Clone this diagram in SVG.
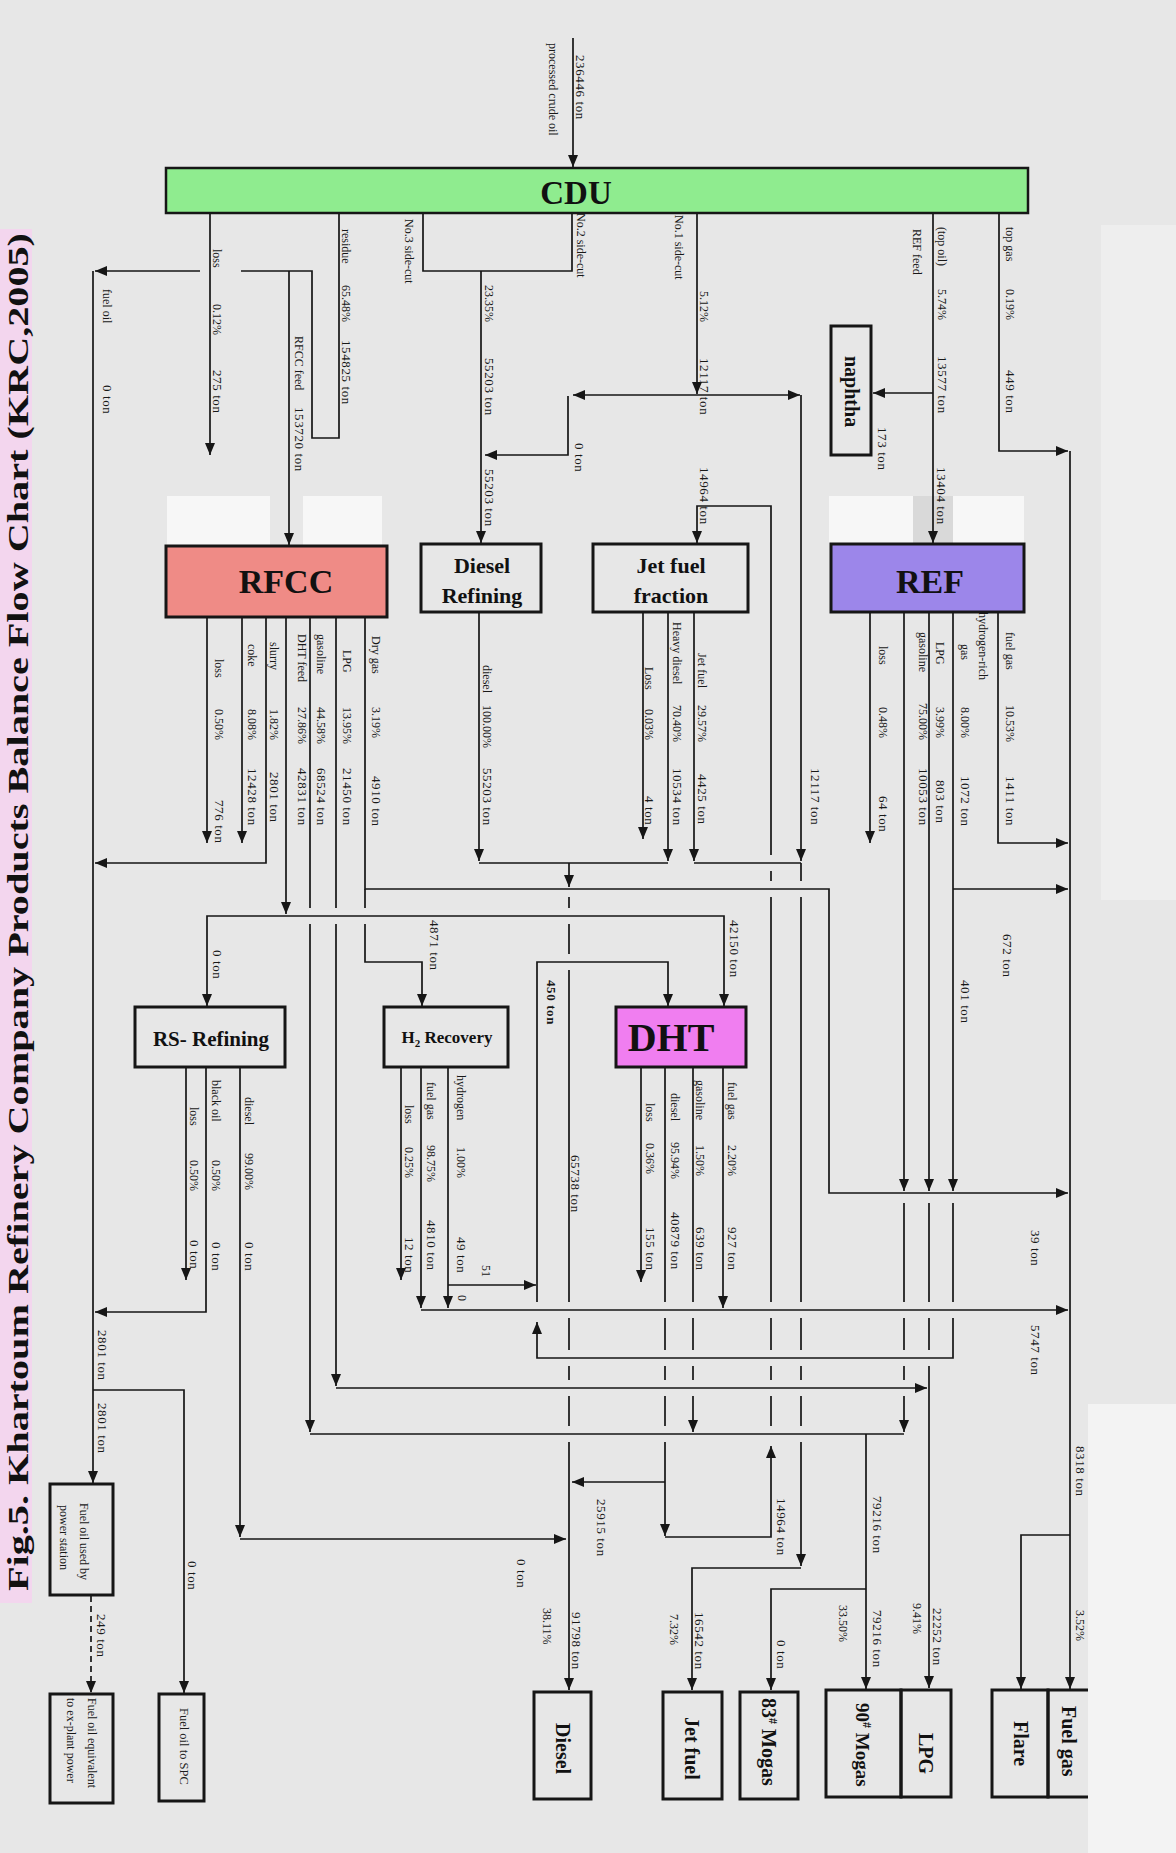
<svg xmlns="http://www.w3.org/2000/svg" width="1176" height="1853" viewBox="0 0 1176 1853">
<defs>
<marker id="ah" viewBox="0 0 12 10" refX="12" refY="5" markerWidth="12" markerHeight="10" orient="auto" markerUnits="userSpaceOnUse"><path d="M0,0L12,5L0,10z" fill="#161616"/></marker>
<style>
.ln{fill:none;stroke:#161616;stroke-width:1.7}
.bx{fill:none;stroke:#161616;stroke-width:3}
.l{font-family:"Liberation Serif","Times New Roman",serif;font-size:12px;fill:#181818}
.n{font-family:"Liberation Serif","Times New Roman",serif;font-size:13px;letter-spacing:0.6px;fill:#181818}
.b{font-family:"Liberation Serif","Times New Roman",serif;font-weight:bold;fill:#111}
.s{font-family:"Liberation Serif","Times New Roman",serif;font-size:12.5px;fill:#1c1c1c}
</style>
</defs>
<g id="paper">
<rect width="1176" height="1853" fill="#e7e7e7"/>
<rect x="1101" y="225" width="75" height="675" fill="#eeeeee"/>
<rect x="1088" y="1404" width="88" height="449" fill="#f3f3f3"/>
<rect x="167" y="496" width="103" height="50" fill="#f7f7f7"/>
<rect x="303" y="496" width="79" height="50" fill="#f7f7f7"/>
<rect x="829" y="496" width="84" height="47" fill="#f7f7f7"/>
<rect x="913" y="496" width="40" height="47" fill="#d9d9d9"/>
<rect x="953" y="496" width="71" height="47" fill="#f7f7f7"/>
</g>
<g id="title">
<rect x="0" y="229" width="32" height="1374" fill="#f3d6ee"/>
<text class="b" x="28" y="1591" transform="rotate(-90 28 1591)" font-size="30" textLength="1358" lengthAdjust="spacingAndGlyphs" fill="#222">Fig.5. Khartoum Refinery Company Products Balance Flow Chart (KRC,2005)</text>
</g>
<g id="connectors" class="ln">
<path d="M573,38V167" marker-end="url(#ah)"/>
<path d="M210,213V455" marker-end="url(#ah)"/>
<path d="M339,213V438H312V271H241M200,271H95" marker-end="url(#ah)"/>
<path d="M93,271V1483" marker-end="url(#ah)"/>
<path d="M289,271V545" marker-end="url(#ah)"/>
<path d="M423,213V271H572V213"/>
<path d="M481,271V543" marker-end="url(#ah)"/>
<path d="M697,213V394" marker-end="url(#ah)"/>
<path d="M697,395H573" marker-end="url(#ah)"/>
<path d="M697,395H800" marker-end="url(#ah)"/>
<path d="M568,396V455H485" marker-end="url(#ah)"/>
<path d="M801,395V861" marker-end="url(#ah)"/>
<path d="M933,213V543" marker-end="url(#ah)"/>
<path d="M933,393H873" marker-end="url(#ah)"/>
<path d="M999,213V451H1068" marker-end="url(#ah)"/>
<path d="M1070,451V1689" marker-end="url(#ah)"/>
<path d="M1070,1535H1021V1689" marker-end="url(#ah)"/>
<path d="M771,1426V1396M771,1380V1366M771,1350V1318M771,1302V897M771,881V871M771,855V506H697V543" marker-end="url(#ah)"/>
<path d="M665,1537H771V1446" marker-end="url(#ah)"/>
<path d="M479,612V861" marker-end="url(#ah)"/>
<path d="M643,612V839" marker-end="url(#ah)"/>
<path d="M668,612V861" marker-end="url(#ah)"/>
<path d="M694,612V861" marker-end="url(#ah)"/>
<path d="M479,863H668M694,863H801"/>
<path d="M569,863V887" marker-end="url(#ah)"/>
<path d="M569,897V908M569,924V954M569,970V1302M569,1318V1350M569,1366V1380M569,1396V1426M569,1442V1690" marker-end="url(#ah)"/>
<path d="M801,863V881M801,897V1302M801,1318V1350M801,1366V1380M801,1396V1426M801,1442V1566" marker-end="url(#ah)"/>
<path d="M801,1568H692V1690" marker-end="url(#ah)"/>
<path d="M870,612V843" marker-end="url(#ah)"/>
<path d="M998,612V843H1068" marker-end="url(#ah)"/>
<path d="M904,612V1191" marker-end="url(#ah)"/>
<path d="M904,1203V1302M904,1318V1350M904,1366V1380M904,1396V1432" marker-end="url(#ah)"/>
<path d="M929,612V1191" marker-end="url(#ah)"/>
<path d="M929,1203V1302M929,1318V1350M929,1366V1688" marker-end="url(#ah)"/>
<path d="M953,612V1191" marker-end="url(#ah)"/>
<path d="M953,889H1068" marker-end="url(#ah)"/>
<path d="M953,1203V1302M953,1318V1358H537V1322" marker-end="url(#ah)"/>
<path d="M537,1302V962H668V1006" marker-end="url(#ah)"/>
<path d="M207,617V843" marker-end="url(#ah)"/>
<path d="M242,617V843" marker-end="url(#ah)"/>
<path d="M266,617V863H95" marker-end="url(#ah)"/>
<path d="M286,617V914" marker-end="url(#ah)"/>
<path d="M286,916H207V1006" marker-end="url(#ah)"/>
<path d="M286,916H724V1006" marker-end="url(#ah)"/>
<path d="M310,617V908M310,924V1432" marker-end="url(#ah)"/>
<path d="M310,1434H904"/>
<path d="M866,1434V1689" marker-end="url(#ah)"/>
<path d="M866,1589H771V1690" marker-end="url(#ah)"/>
<path d="M336,617V908M336,924V1386" marker-end="url(#ah)"/>
<path d="M336,1388H927" marker-end="url(#ah)"/>
<path d="M365,617V889H829V1193H1068" marker-end="url(#ah)"/>
<path d="M365,889V908M365,924V962H422V1006" marker-end="url(#ah)"/>
<path d="M186,1067V1280" marker-end="url(#ah)"/>
<path d="M206,1067V1312H95" marker-end="url(#ah)"/>
<path d="M240,1067V1537" marker-end="url(#ah)"/>
<path d="M240,1539H566" marker-end="url(#ah)"/>
<path d="M93,1390H184V1693" marker-end="url(#ah)"/>
<path d="M91,1596V1693" stroke-dasharray="6 4" marker-end="url(#ah)"/>
<path d="M401,1067V1280" marker-end="url(#ah)"/>
<path d="M421,1067V1308" marker-end="url(#ah)"/>
<path d="M448,1067V1308" marker-end="url(#ah)"/>
<path d="M448,1285H536" marker-end="url(#ah)"/>
<path d="M421,1310H1068" marker-end="url(#ah)"/>
<path d="M665,1067V1302M665,1318V1350M665,1366V1380M665,1396V1426M665,1442V1536" marker-end="url(#ah)"/>
<path d="M665,1482H572" marker-end="url(#ah)"/>
<path d="M693,1067V1302M693,1318V1350M693,1366V1380M693,1396V1432" marker-end="url(#ah)"/>
<path d="M723,1067V1308" marker-end="url(#ah)"/>
<path d="M641,1067V1282" marker-end="url(#ah)"/>
</g>
<g id="cdu"><rect x="166" y="168" width="862" height="45" fill="#8fec8f" stroke="#161616" stroke-width="2.5"/><text class="b" x="576" y="204" font-size="33" text-anchor="middle">CDU</text></g>
<g id="naphtha"><rect x="831" y="326" width="40" height="129" class="bx"/><text class="b" font-size="20" x="845" y="356" transform="rotate(90 845 356)">naphtha</text></g>
<g id="rfcc"><rect x="166" y="546" width="221" height="71" fill="#ef8b86" stroke="#161616" stroke-width="3"/><text class="b" x="286" y="593" font-size="34" text-anchor="middle">RFCC</text></g>
<g id="diesel-refining"><rect x="421" y="544" width="120" height="68" class="bx"/><text class="b" x="482" y="573" font-size="22" text-anchor="middle">Diesel</text><text class="b" x="482" y="603" font-size="22" text-anchor="middle">Refining</text></g>
<g id="jet-fuel-fraction"><rect x="593" y="544" width="155" height="68" class="bx"/><text class="b" x="671" y="573" font-size="22" text-anchor="middle">Jet fuel</text><text class="b" x="671" y="603" font-size="22" text-anchor="middle">fraction</text></g>
<g id="ref"><rect x="831" y="544" width="193" height="68" fill="#9c86ea" stroke="#161616" stroke-width="3"/><text class="b" x="930" y="593" font-size="34" text-anchor="middle">REF</text></g>
<g id="rs-refining"><rect x="135" y="1007" width="150" height="60" class="bx"/><text class="b" x="211" y="1046" font-size="21" text-anchor="middle">RS- Refining</text></g>
<g id="h2-recovery"><rect x="384" y="1007" width="124" height="60" class="bx"/><text class="b" x="447" y="1043" font-size="17" text-anchor="middle">H<tspan font-size="11" dy="4">2</tspan><tspan dy="-4"> Recovery</tspan></text></g>
<g id="dht"><rect x="616" y="1007" width="130" height="60" fill="#f07ef0" stroke="#161616" stroke-width="3"/><text class="b" x="671" y="1051" font-size="40" text-anchor="middle">DHT</text></g>
<g id="fuel-oil-power"><rect x="50" y="1484" width="63" height="111" class="bx"/><text class="l" x="80" y="1503" transform="rotate(90 80 1503)">Fuel oil used by</text><text class="l" x="60" y="1505" transform="rotate(90 60 1505)">power station</text></g>
<g id="fuel-oil-equiv"><rect x="50" y="1694" width="63" height="109" class="bx"/><text class="l" x="88" y="1698" transform="rotate(90 88 1698)">Fuel oil equivalent</text><text class="l" x="67" y="1698" transform="rotate(90 67 1698)">to ex-plant power</text></g>
<g id="fuel-oil-spc"><rect x="159" y="1694" width="45" height="107" class="bx"/><text class="s" x="180" y="1708" transform="rotate(90 180 1708)">Fuel oil to SPC</text></g>
<g id="diesel"><rect x="534" y="1692" width="57" height="107" class="bx"/><text class="b" font-size="20" x="556" y="1723" transform="rotate(90 556 1723)">Diesel</text></g>
<g id="jet-fuel"><rect x="663" y="1692" width="59" height="107" class="bx"/><text class="b" font-size="20" x="685" y="1717" transform="rotate(90 685 1717)">Jet fuel</text></g>
<g id="mogas83"><rect x="740" y="1692" width="58" height="107" class="bx"/><text class="b" font-size="20" x="762" y="1698" transform="rotate(90 762 1698)">83<tspan font-size="12" dy="-7">#</tspan><tspan dy="7"> Mogas</tspan></text></g>
<g id="mogas90"><rect x="826" y="1690" width="75" height="107" class="bx"/><text class="b" font-size="19" x="856" y="1703" transform="rotate(90 856 1703)">90<tspan font-size="12" dy="-7">#</tspan><tspan dy="7"> Mogas</tspan></text></g>
<g id="lpg"><rect x="901" y="1690" width="50" height="107" class="bx"/><text class="b" font-size="20" x="919" y="1733" transform="rotate(90 919 1733)">LPG</text></g>
<g id="flare"><rect x="992" y="1690" width="56" height="107" class="bx"/><text class="b" font-size="20" x="1014" y="1721" transform="rotate(90 1014 1721)">Flare</text></g>
<g id="fuel-gas"><path d="M1088,1690H1048V1797H1088" class="bx"/><text class="b" font-size="20" x="1062" y="1706" transform="rotate(90 1062 1706)">Fuel gas</text></g>
<g id="labels">
<text class="n" font-size="17" letter-spacing="1.2" x="576" y="55" transform="rotate(90 576 55)">236446 ton</text>
<text class="l" font-size="12.5" x="549" y="43" transform="rotate(90 549 43)">processed crude oil</text>
<text class="l" x="213" y="249" transform="rotate(90 213 249)">loss</text>
<text class="l" x="213" y="304" transform="rotate(90 213 304)">0.12%</text>
<text class="n" x="213" y="370" transform="rotate(90 213 370)">275 ton</text>
<text class="l" x="103" y="289" transform="rotate(90 103 289)">fuel oil</text>
<text class="n" x="103" y="385" transform="rotate(90 103 385)">0 ton</text>
<text class="l" x="342" y="229" transform="rotate(90 342 229)">residue</text>
<text class="l" x="342" y="285" transform="rotate(90 342 285)">65.48%</text>
<text class="n" x="342" y="340" transform="rotate(90 342 340)">154825 ton</text>
<text class="l" x="295" y="336" transform="rotate(90 295 336)">RFCC feed</text>
<text class="n" x="295" y="407" transform="rotate(90 295 407)">153720 ton</text>
<text class="l" x="405" y="219" transform="rotate(90 405 219)">No.3 side-cut</text>
<text class="l" x="577" y="213" transform="rotate(90 577 213)">No.2 side-cut</text>
<text class="l" x="485" y="285" transform="rotate(90 485 285)">23.35%</text>
<text class="n" x="485" y="358" transform="rotate(90 485 358)">55203 ton</text>
<text class="n" x="485" y="469" transform="rotate(90 485 469)">55203 ton</text>
<text class="n" x="575" y="443" transform="rotate(90 575 443)">0 ton</text>
<text class="l" x="675" y="215" transform="rotate(90 675 215)">No.1 side-cut</text>
<text class="l" x="700" y="291" transform="rotate(90 700 291)">5.12%</text>
<text class="n" x="700" y="358" transform="rotate(90 700 358)">12117 ton</text>
<text class="n" x="700" y="467" transform="rotate(90 700 467)">14964 ton</text>
<text class="l" x="913" y="229" transform="rotate(90 913 229)">REF feed</text>
<text class="l" x="938" y="227" transform="rotate(90 938 227)">(top oil)</text>
<text class="l" x="938" y="289" transform="rotate(90 938 289)">5.74%</text>
<text class="n" x="938" y="356" transform="rotate(90 938 356)">13577 ton</text>
<text class="n" x="937" y="467" transform="rotate(90 937 467)">13404 ton</text>
<text class="n" x="878" y="427" transform="rotate(90 878 427)">173 ton</text>
<text class="l" x="1006" y="227" transform="rotate(90 1006 227)">top gas</text>
<text class="l" x="1006" y="289" transform="rotate(90 1006 289)">0.19%</text>
<text class="n" x="1006" y="370" transform="rotate(90 1006 370)">449 ton</text>
<text class="l" x="215" y="659" transform="rotate(90 215 659)">loss</text>
<text class="l" x="215" y="709" transform="rotate(90 215 709)">0.50%</text>
<text class="n" x="215" y="800" transform="rotate(90 215 800)">776 ton</text>
<text class="l" x="248" y="644" transform="rotate(90 248 644)">coke</text>
<text class="l" x="248" y="709" transform="rotate(90 248 709)">8.08%</text>
<text class="n" x="248" y="768" transform="rotate(90 248 768)">12428 ton</text>
<text class="l" x="270" y="642" transform="rotate(90 270 642)">slurry</text>
<text class="l" x="270" y="709" transform="rotate(90 270 709)">1.82%</text>
<text class="n" x="270" y="772" transform="rotate(90 270 772)">2801 ton</text>
<text class="l" x="298" y="634" transform="rotate(90 298 634)">DHT feed</text>
<text class="l" x="298" y="707" transform="rotate(90 298 707)">27.86%</text>
<text class="n" x="298" y="768" transform="rotate(90 298 768)">42831 ton</text>
<text class="l" x="317" y="634" transform="rotate(90 317 634)">gasoline</text>
<text class="l" x="317" y="707" transform="rotate(90 317 707)">44.58%</text>
<text class="n" x="317" y="768" transform="rotate(90 317 768)">68524 ton</text>
<text class="l" x="343" y="650" transform="rotate(90 343 650)">LPG</text>
<text class="l" x="343" y="707" transform="rotate(90 343 707)">13.95%</text>
<text class="n" x="343" y="768" transform="rotate(90 343 768)">21450 ton</text>
<text class="l" x="372" y="636" transform="rotate(90 372 636)">Dry gas</text>
<text class="l" x="372" y="707" transform="rotate(90 372 707)">3.19%</text>
<text class="n" x="372" y="776" transform="rotate(90 372 776)">4910 ton</text>
<text class="l" x="483" y="665" transform="rotate(90 483 665)">diesel</text>
<text class="l" x="483" y="705" transform="rotate(90 483 705)">100.00%</text>
<text class="n" x="483" y="768" transform="rotate(90 483 768)">55203 ton</text>
<text class="l" x="645" y="667" transform="rotate(90 645 667)">Loss</text>
<text class="l" x="645" y="709" transform="rotate(90 645 709)">0.03%</text>
<text class="n" x="645" y="796" transform="rotate(90 645 796)">4 ton</text>
<text class="l" x="673" y="622" transform="rotate(90 673 622)">Heavy diesel</text>
<text class="l" x="673" y="705" transform="rotate(90 673 705)">70.40%</text>
<text class="n" x="673" y="768" transform="rotate(90 673 768)">10534 ton</text>
<text class="l" x="698" y="653" transform="rotate(90 698 653)">Jet fuel</text>
<text class="l" x="698" y="705" transform="rotate(90 698 705)">29.57%</text>
<text class="n" x="698" y="774" transform="rotate(90 698 774)">4425 ton</text>
<text class="l" x="879" y="646" transform="rotate(90 879 646)">loss</text>
<text class="l" x="879" y="707" transform="rotate(90 879 707)">0.48%</text>
<text class="n" x="879" y="796" transform="rotate(90 879 796)">64 ton</text>
<text class="l" x="919" y="632" transform="rotate(90 919 632)">gasoline</text>
<text class="l" x="919" y="703" transform="rotate(90 919 703)">75.00%</text>
<text class="n" x="919" y="768" transform="rotate(90 919 768)">10053 ton</text>
<text class="l" x="936" y="642" transform="rotate(90 936 642)">LPG</text>
<text class="l" x="936" y="707" transform="rotate(90 936 707)">3.99%</text>
<text class="n" x="936" y="780" transform="rotate(90 936 780)">803 ton</text>
<text class="l" x="979" y="612" transform="rotate(90 979 612)">hydrogen-rich</text>
<text class="l" x="961" y="644" transform="rotate(90 961 644)">gas</text>
<text class="l" x="961" y="707" transform="rotate(90 961 707)">8.00%</text>
<text class="n" x="961" y="776" transform="rotate(90 961 776)">1072 ton</text>
<text class="l" x="1006" y="632" transform="rotate(90 1006 632)">fuel gas</text>
<text class="l" x="1006" y="705" transform="rotate(90 1006 705)">10.53%</text>
<text class="n" x="1006" y="776" transform="rotate(90 1006 776)">1411 ton</text>
<text class="n" x="811" y="768" transform="rotate(90 811 768)">12117 ton</text>
<text class="n" x="1003" y="934" transform="rotate(90 1003 934)">672 ton</text>
<text class="n" x="961" y="980" transform="rotate(90 961 980)">401 ton</text>
<text class="n" x="213" y="950" transform="rotate(90 213 950)">0 ton</text>
<text class="n" x="430" y="920" transform="rotate(90 430 920)">4871 ton</text>
<text class="n" x="730" y="920" transform="rotate(90 730 920)">42150 ton</text>
<text class="n" font-size="15" font-weight="bold" x="547" y="980" transform="rotate(90 547 980)">450 ton</text>
<text class="n" x="571" y="1155" transform="rotate(90 571 1155)">65738 ton</text>
<text class="l" x="190" y="1107" transform="rotate(90 190 1107)">loss</text>
<text class="l" x="190" y="1160" transform="rotate(90 190 1160)">0.50%</text>
<text class="n" x="190" y="1240" transform="rotate(90 190 1240)">0 ton</text>
<text class="l" x="212" y="1080" transform="rotate(90 212 1080)">black oil</text>
<text class="l" x="212" y="1160" transform="rotate(90 212 1160)">0.50%</text>
<text class="n" x="212" y="1242" transform="rotate(90 212 1242)">0 ton</text>
<text class="l" x="245" y="1097" transform="rotate(90 245 1097)">diesel</text>
<text class="l" x="245" y="1153" transform="rotate(90 245 1153)">99.00%</text>
<text class="n" x="245" y="1242" transform="rotate(90 245 1242)">0 ton</text>
<text class="l" x="405" y="1105" transform="rotate(90 405 1105)">loss</text>
<text class="l" x="405" y="1147" transform="rotate(90 405 1147)">0.25%</text>
<text class="n" x="405" y="1237" transform="rotate(90 405 1237)">12 ton</text>
<text class="l" x="427" y="1082" transform="rotate(90 427 1082)">fuel gas</text>
<text class="l" x="427" y="1145" transform="rotate(90 427 1145)">98.75%</text>
<text class="n" x="427" y="1220" transform="rotate(90 427 1220)">4810 ton</text>
<text class="l" x="457" y="1075" transform="rotate(90 457 1075)">hydrogen</text>
<text class="l" x="457" y="1147" transform="rotate(90 457 1147)">1.00%</text>
<text class="n" x="457" y="1237" transform="rotate(90 457 1237)">49 ton</text>
<text class="l" x="482" y="1265" transform="rotate(90 482 1265)">51</text>
<text class="l" x="458" y="1295" transform="rotate(90 458 1295)">0</text>
<text class="l" x="646" y="1103" transform="rotate(90 646 1103)">loss</text>
<text class="l" x="646" y="1143" transform="rotate(90 646 1143)">0.36%</text>
<text class="n" x="646" y="1227" transform="rotate(90 646 1227)">155 ton</text>
<text class="l" x="671" y="1093" transform="rotate(90 671 1093)">diesel</text>
<text class="l" x="671" y="1142" transform="rotate(90 671 1142)">95.94%</text>
<text class="n" x="671" y="1212" transform="rotate(90 671 1212)">40879 ton</text>
<text class="l" x="696" y="1080" transform="rotate(90 696 1080)">gasoline</text>
<text class="l" x="696" y="1145" transform="rotate(90 696 1145)">1.50%</text>
<text class="n" x="696" y="1227" transform="rotate(90 696 1227)">639 ton</text>
<text class="l" x="728" y="1082" transform="rotate(90 728 1082)">fuel gas</text>
<text class="l" x="728" y="1145" transform="rotate(90 728 1145)">2.20%</text>
<text class="n" x="728" y="1227" transform="rotate(90 728 1227)">927 ton</text>
<text class="n" x="1031" y="1230" transform="rotate(90 1031 1230)">39 ton</text>
<text class="n" x="1031" y="1325" transform="rotate(90 1031 1325)">5747 ton</text>
<text class="n" x="1076" y="1446" transform="rotate(90 1076 1446)">8318 ton</text>
<text class="l" x="1076" y="1610" transform="rotate(90 1076 1610)">3.52%</text>
<text class="n" x="98" y="1330" transform="rotate(90 98 1330)">2801 ton</text>
<text class="n" x="98" y="1403" transform="rotate(90 98 1403)">2801 ton</text>
<text class="n" x="188" y="1561" transform="rotate(90 188 1561)">0 ton</text>
<text class="n" x="97" y="1614" transform="rotate(90 97 1614)">249 ton</text>
<text class="n" x="517" y="1559" transform="rotate(90 517 1559)">0 ton</text>
<text class="n" x="597" y="1499" transform="rotate(90 597 1499)">25915 ton</text>
<text class="n" x="572" y="1612" transform="rotate(90 572 1612)">91798 ton</text>
<text class="l" x="543" y="1608" transform="rotate(90 543 1608)">38.11%</text>
<text class="n" x="695" y="1612" transform="rotate(90 695 1612)">16542 ton</text>
<text class="l" x="670" y="1614" transform="rotate(90 670 1614)">7.32%</text>
<text class="n" x="777" y="1498" transform="rotate(90 777 1498)">14964 ton</text>
<text class="n" x="777" y="1640" transform="rotate(90 777 1640)">0 ton</text>
<text class="n" x="873" y="1496" transform="rotate(90 873 1496)">79216 ton</text>
<text class="n" x="873" y="1610" transform="rotate(90 873 1610)">79216 ton</text>
<text class="l" x="839" y="1605" transform="rotate(90 839 1605)">33.50%</text>
<text class="n" x="933" y="1608" transform="rotate(90 933 1608)">22252 ton</text>
<text class="l" x="913" y="1603" transform="rotate(90 913 1603)">9.41%</text>
</g>
</svg>
